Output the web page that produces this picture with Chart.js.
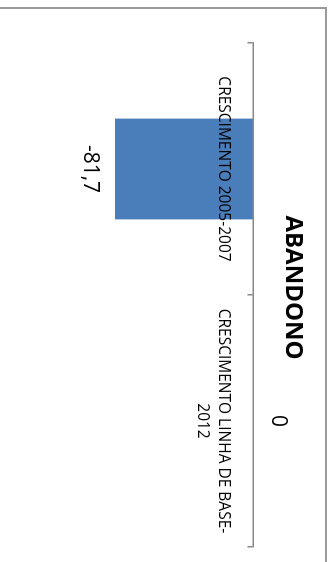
<!DOCTYPE html>
<html>
<head>
<meta charset="utf-8">
<script src="https://cdn.jsdelivr.net/npm/chart.js@4/dist/chart.umd.min.js"></script>
<style>
    html, body { margin: 0; padding: 0; background: #fff; overflow: hidden; }
    body { width: 336px; height: 562px; position: relative; }
    /* chart is drawn landscape, then turned a quarter clockwise */
    #turn {
        position: absolute; left: 0; top: 0;
        width: 562px; height: 336px;
        transform-origin: 0 0;
        transform: translate(336px, 0) rotate(90deg);
    }
    #frame {
        position: absolute; left: 7px; top: 9px;
        width: 600px; height: 400px;
        border-left: 2px solid #9a9a9a;
        border-top: 2px solid #9a9a9a;
    }
    canvas { position: absolute; left: 0; top: 0; }
</style>
</head>
<body>
<div id="turn">
    <div id="frame"></div>
    <canvas id="barChart" width="562" height="336"></canvas>
</div>
<script>
const chartTitle = "ABANDONO";
const categories = ["CRESCIMENTO 2005-2007", ["CRESCIMENTO LINHA DE BASE-", "2012"]];
const values = [-81.7, 0];

Chart.defaults.font.family = "'Open Sans', sans-serif";
Chart.defaults.color = "#000";

/* ---------------------------
   Value labels on the bars
---------------------------- */
const valueLabels = {
    id: "valueLabels",
    afterDatasetsDraw(chart) {
        const ctx = chart.ctx;
        const meta = chart.getDatasetMeta(0);
        ctx.save();
        ctx.font = "21px 'Open Sans', sans-serif";
        ctx.fillStyle = "#000";
        ctx.textAlign = "center";
        ctx.textBaseline = "middle";
        meta.data.forEach((bar, i) => {
            const v = values[i];
            const y = v < 0 ? bar.y + 25 : bar.y - 24;
            ctx.fillText(String(v).replace(".", ","), bar.x, y);
        });
        ctx.restore();
    }
};

const ctx = document.getElementById("barChart").getContext("2d");

new Chart(ctx, {
    type: "bar",
    data: {
        labels: categories,
        datasets: [{
            data: values,
            backgroundColor: "#4A7EBB",
            borderWidth: 0,
            barPercentage: 0.4,
            categoryPercentage: 1
        }]
    },
    options: {
        responsive: false,
        animation: false,
        devicePixelRatio: 1,
        layout: {
            padding: { left: 28, right: 15, top: 0, bottom: 84 }
        },
        scales: {
            x: {
                position: { y: 0 },
                grid: {
                    display: true,
                    drawOnChartArea: false,
                    drawTicks: true,
                    tickLength: 5,
                    color: "#888",
                    lineWidth: 1.5
                },
                border: { display: true, color: "#888", width: 1.5, z: 1 },
                ticks: {
                    z: 1, // labels sit on top of the bar
                    padding: 14,
                    maxRotation: 0,
                    autoSkip: false,
                    font: { size: 15.5, lineHeight: 1.4 },
                    color: "#000"
                }
            },
            y: {
                min: -100,
                max: 0,
                grid: { display: false },
                border: { display: false },
                ticks: { display: false },
                afterFit: scale => { scale.width = 15; }
            }
        },
        plugins: {
            legend: { display: false },
            tooltip: { enabled: false },
            title: {
                display: true,
                text: chartTitle,
                color: "#000",
                font: { size: 24, weight: "bold", lineHeight: 1.2 },
                padding: { top: 29, bottom: 24.7 }
            }
        }
    },
    plugins: [valueLabels]
});
</script>
</body>
</html>
